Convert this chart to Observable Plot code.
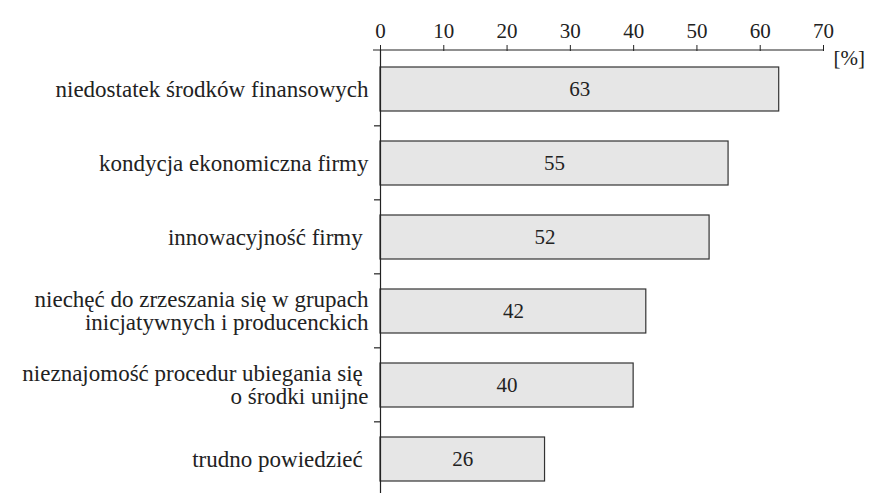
<!DOCTYPE html>
<html>
<head>
<meta charset="utf-8">
<script src="https://cdn.jsdelivr.net/npm/d3@7"></script>
<script src="https://cdn.jsdelivr.net/npm/@observablehq/plot@0.6"></script>
<style>
  html, body { margin: 0; padding: 0; background: #fff; }
</style>
</head>
<body>
<div id="chart"></div>
<script>
const categories = [
  "niedostatek środków finansowych",
  "kondycja ekonomiczna firmy",
  "innowacyjność firmy\u00a0",
  "niechęć do zrzeszania się w grupach\ninicjatywnych i producenckich",
  "nieznajomość procedur ubiegania się\u00a0\no środki unijne",
  "trudno powiedzieć\u00a0"
];
const values = [63, 55, 52, 42, 40, 26];
const xTicks = [0, 10, 20, 30, 40, 50, 60, 70];
const unitLabel = "[%]";

const data = categories.map((c, i) => ({category: c, value: values[i]}));
const font = "Liberation Serif";

const plot = Plot.plot({
  width: 869,
  height: 493,
  marginLeft: 380,
  marginRight: 46,
  marginTop: 50,
  marginBottom: 0,
  x: {domain: [0, 70], ticks: xTicks, label: null},
  y: {domain: categories, range: [50, 497], paddingInner: 0.41, paddingOuter: 0.205, label: null},
  marks: [
    Plot.barX(data, {x: "value", y: "category", fill: "#e6e6e6", stroke: "#333", strokeWidth: 1.2}),
    Plot.text(data, {x: d => d.value / 2, y: "category", text: d => String(d.value), fontSize: 21, fontFamily: font, fill: "#222"}),
    Plot.ruleX([0], {stroke: "#222", strokeWidth: 1.2}),
    Plot.axisX({anchor: "top", ticks: xTicks, tickSize: 6, tickPadding: 7, fontSize: 21, fontFamily: font, label: null, stroke: "#222", fill: "#222"}),
    Plot.axisY({anchor: "left", tickSize: 0, tickPadding: 12, fontSize: 23, fontFamily: font, label: null, lineHeight: 1.0, fill: "#222"}),
    Plot.text([unitLabel], {frameAnchor: "top-right", textAnchor: "start", dx: 10, fontSize: 21, fontFamily: font, fill: "#222"})
  ]
});

plot.setAttribute("font-family", font);
const svg = d3.select(plot);

// axis line along the top and boundary ticks on the y axis, from the plot's own scales
const xs = plot.scale("x");
const ys = plot.scale("y");
const g = svg.append("g").attr("stroke", "#222").attr("stroke-width", 1.2);
g.append("line")
  .attr("x1", xs.range[0] - 7).attr("x2", xs.range[1])
  .attr("y1", ys.range[0]).attr("y2", ys.range[0]);
const x0 = xs.apply(0);
categories.slice(1).forEach(c => {
  const yb = ys.apply(c) - ys.step * 0.41 / 2;
  g.append("line").attr("x1", x0 - 6).attr("x2", x0).attr("y1", yb).attr("y2", yb);
});

document.getElementById("chart").appendChild(plot);
</script>
</body>
</html>
